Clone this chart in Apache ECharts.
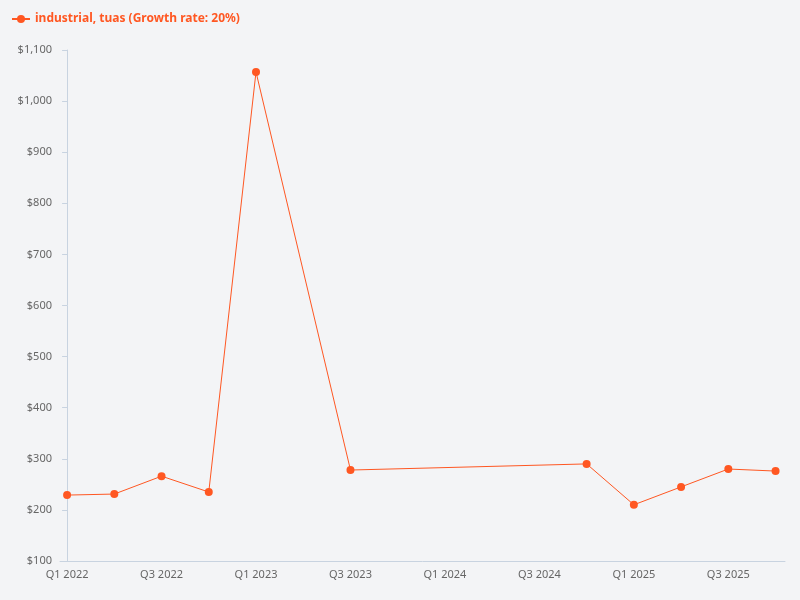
<!DOCTYPE html>
<html>
<head>
<meta charset="utf-8">
<script src="https://cdn.jsdelivr.net/npm/echarts@6/dist/echarts.min.js"></script>
<style>html,body{margin:0;background:#f3f4f6}#chart{width:800px;height:600px}</style>
</head>
<body>
<div id="chart"></div>
<script>
const quarters = ['Q1 2022','Q2 2022','Q3 2022','Q4 2022','Q1 2023','Q2 2023','Q3 2023','Q4 2023',
  'Q1 2024','Q2 2024','Q3 2024','Q4 2024','Q1 2025','Q2 2025','Q3 2025','Q4 2025'];
const prices = [229, 231, 266, 235, 1057, null, 278, null, null, null, null, 290, 210, 245, 280, 276];
const labelIndices = [0, 2, 4, 6, 8, 10, 12, 14];
const seriesName = 'industrial, tuas (Growth rate: 20%)';

const seriesData = prices
  .map((v, i) => [i, v])
  .filter(p => p[1] !== null);

const chart = echarts.init(document.getElementById('chart'));
chart.setOption({
  backgroundColor: '#f3f4f6',
  textStyle: { fontFamily: 'Noto Sans' },
  legend: {
    left: 6, top: 8,
    itemWidth: 18, itemHeight: 10,
    textStyle: { color: '#ff5722', fontWeight: 'bold', fontSize: 12 }
  },
  grid: { left: 60, right: 15, top: 50, bottom: 39 },
  xAxis: {
    type: 'value',
    min: -0.15, max: 15.2,
    splitLine: { show: false },
    axisLine: { show: true, lineStyle: { color: '#c8d3e0' } },
    axisTick: { show: false },
    axisLabel: {
      customValues: labelIndices,
      color: '#666', fontSize: 11,
      formatter: v => quarters[Math.round(v)]
    }
  },
  yAxis: {
    type: 'value',
    min: 100, max: 1100, interval: 100,
    splitLine: { show: false },
    axisLine: { show: true, lineStyle: { color: '#c8d3e0' } },
    axisLabel: {
      color: '#666', fontSize: 11,
      formatter: v => '$' + v.toLocaleString('en-US')
    }
  },
  series: [{
    name: seriesName,
    type: 'line',
    data: seriesData,
    symbol: 'circle',
    symbolSize: 8,
    itemStyle: { color: '#ff5722' },
    lineStyle: { color: '#ff5722', width: 1 }
  }]
});
</script>
</body>
</html>
